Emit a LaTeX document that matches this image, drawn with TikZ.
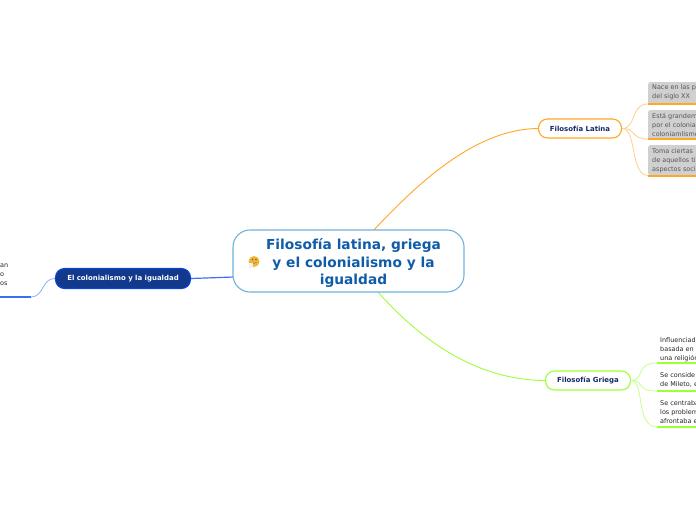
\documentclass[tikz,border=0pt]{standalone}
\usepackage{fontspec}
\setmainfont{DejaVu Sans}
\definecolor{rootblue}{HTML}{0F5CA8}
\definecolor{rootedge}{HTML}{6FB1E0}
\definecolor{latin}{HTML}{FFA726}
\definecolor{latinsoft}{HTML}{FFCF8A}
\definecolor{greek}{HTML}{9CFF3A}
\definecolor{greeksoft}{HTML}{C6FF8F}
\definecolor{navy}{HTML}{12398C}
\definecolor{navyedge}{HTML}{0B45D8}
\definecolor{bluelink}{HTML}{3D6FF0}
\definecolor{bluesoft}{HTML}{8FAEFF}
\definecolor{darktext}{HTML}{14296B}
\definecolor{greytext}{HTML}{555555}
\definecolor{leafgrey}{HTML}{D0D0D0}
\definecolor{faceyellow}{HTML}{F2B632}
\tikzset{
 x=1pt,y=-1pt,
 rootbox/.style={draw=rootedge,line width=1.1pt,fill=white,rounded corners=17pt,minimum width=231pt,minimum height=62pt,inner sep=0pt},
 mainbox/.style={draw=#1,line width=1.1pt,fill=white,rounded corners=9pt,inner sep=0pt,font=\bfseries\fontsize{6.95}{9}\selectfont,text=darktext},
 navybox/.style={draw=navyedge,line width=1.1pt,fill=navy,rounded corners=9pt,inner sep=0pt,font=\bfseries\fontsize{6.95}{9}\selectfont,text=white},
 leaftext/.style={anchor=west,inner sep=0pt,align=left,font=\fontsize{6.45}{9}\selectfont},
 greyleaf/.style={anchor=north west,fill=leafgrey,rounded corners=2pt,inner sep=0pt},
 branch/.style={line width=0.9pt},
 twig/.style={line width=0.8pt},
 under/.style={line width=2pt}
}
\begin{document}
\begin{tikzpicture}
\useasboundingbox (0,0) rectangle (696,520);
\clip (0,0) rectangle (696,520);
\fill[white] (0,0) rectangle (696,520);

% coordinates at the ends of the underlines
\coordinate (latA) at (648,104);
\coordinate (latB) at (648,139);
\coordinate (latC) at (648,175.500);
\coordinate (latAe) at (696,104);
\coordinate (latBe) at (696,139);
\coordinate (latCe) at (696,175.500);
\coordinate (greA) at (657,363);
\coordinate (greB) at (657,391);
\coordinate (greC) at (657,427);
\coordinate (greAe) at (696,363);
\coordinate (greBe) at (696,391);
\coordinate (greCe) at (696,427);
\coordinate (colU) at (31,297);
\coordinate (colUe) at (0,297);
\coordinate (rootL) at (234,277);

% grey leaves
\node[greyleaf,minimum width=60pt,minimum height=22pt] (g1) at (648,82) {};
\node[greyleaf,minimum width=60pt,minimum height=29pt] (g2) at (648,110) {};
\node[greyleaf,minimum width=60pt,minimum height=30pt] (g3) at (648,145) {};

% branches from the root
\draw[branch,latin] (373,231) .. controls (425,175) and (480,129) .. (538,128.500);
\draw[branch,greek] (377,291) .. controls (425,345) and (480,380) .. (545,380.500);
\draw[line width=1.2pt,bluelink] (rootL) -- (191,278.500);

% main nodes
\node[rootbox] (root) at (348.500,261) {};
\node[mainbox=latin,minimum width=83pt,minimum height=19pt] (lat) at (580,128.500) {Filosofía Latina};
\node[mainbox=greek,minimum width=85pt,minimum height=19pt] (gre) at (588,380.500) {Filosofía Griega};
\node[navybox,minimum width=135pt,minimum height=20pt] (col) at (123,278.500) {El colonialismo y la igualdad};

% twigs
\draw[twig,latinsoft] (lat.east) .. controls (637,128) and (630,104) .. (latA);
\draw[twig,latinsoft] (lat.east) .. controls (637,128) and (630,139) .. (latB);
\draw[twig,latinsoft] (lat.east) .. controls (637,128) and (630,175.500) .. (latC);
\draw[twig,greeksoft] (gre.east) .. controls (645,380) and (635,363) .. (greA);
\draw[twig,greeksoft] (gre.east) .. controls (645,380) and (635,391) .. (greB);
\draw[twig,greeksoft] (gre.east) .. controls (645,380) and (635,427) .. (greC);
\draw[twig,bluesoft] (col.west) .. controls (42,278) and (44,297) .. (colU);

% underlines
\draw[under,latin] (latA) -- (latAe);
\draw[under,latin] (latB) -- (latBe);
\draw[under,latin] (latC) -- (latCe);
\draw[under,greek] (greA) -- (greAe);
\draw[under,greek] (greB) -- (greBe);
\draw[under,greek] (greC) -- (greCe);
\draw[under,bluelink] (colU) -- (colUe);

% root title
\node[inner sep=0pt,align=center,text=rootblue,font=\bfseries\fontsize{13.75}{17.2}\selectfont] (title) at (353.500,263) {Filosofía latina, griega\\y el colonialismo y la\\igualdad};

% emoji
\node[circle,fill=faceyellow,minimum size=11pt,inner sep=0pt] (face) at (254,261.500) {};
\fill[white!88!gray] (248.500,263) rectangle (253,267.500);
\fill[black!60] (252.500,259.500) circle (0.8pt) (256,259.500) circle (0.8pt);
\draw[black!55,line width=0.5pt] (253,263.500) -- (256.500,262.500);

% leaf texts
\node[leaftext,text=greytext] (t1) at (652,92.500) {Nace en las p\\del siglo XX};
\node[leaftext,text=greytext] (t2) at (652,125) {Está grandem\\por el colonia\\coloniamlismo};
\node[leaftext,text=greytext] (t3) at (652,160.500) {Toma ciertas\\de aquellos ti\\aspectos soci};
\node[leaftext,text=black!85] (t4) at (660,349.500) {Influenciad\\basada en\\una religión};
\node[leaftext,text=black!85] (t5) at (660,380) {Se conside\\de Mileto, e};
\node[leaftext,text=black!85] (t6) at (660,412) {Se centraba\\los problem\\afrontaba e};
\node[leaftext,text=black!85] (t7) at (0,274.500) {an\\o\\os};
\end{tikzpicture}
\end{document}
